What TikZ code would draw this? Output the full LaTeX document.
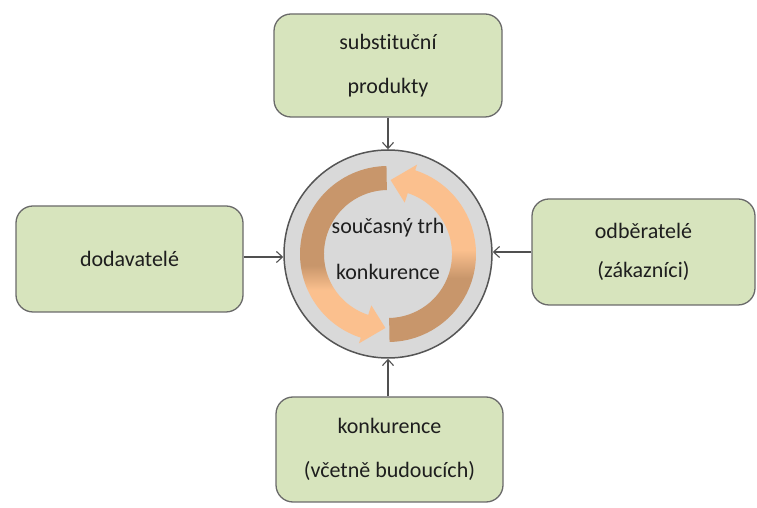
\documentclass[tikz,border=0pt]{standalone}
\usepackage{fontspec}
\setmainfont{Carlito}[Ligatures=NoCommon]
\usetikzlibrary{arrows.meta}

\definecolor{boxfill}{HTML}{D7E4BD}
\definecolor{boxline}{HTML}{6A6A6A}
\definecolor{circfill}{HTML}{D9D9D9}
\definecolor{circline}{HTML}{555555}
\definecolor{linkline}{HTML}{505050}
\definecolor{txt}{HTML}{1E1E1E}
\definecolor{ardark}{HTML}{C8966B}
\definecolor{arlight}{HTML}{FBC08E}

% vertical colour ramps of the two round arrows (path box spans 25bp..75bp)
\pgfdeclareverticalshading{arrowA}{100bp}{color(0bp)=(arlight); color(40bp)=(arlight); color(47bp)=(ardark); color(100bp)=(ardark)}
\pgfdeclareverticalshading{arrowB}{100bp}{color(0bp)=(ardark); color(43bp)=(ardark); color(51bp)=(arlight); color(100bp)=(arlight)}

\tikzset{
  greenbox/.style={draw=boxline, line width=1.3pt, fill=boxfill, rounded corners=17pt,
    align=center, text=txt, inner sep=0pt,
    font=\fontsize{22}{44}\selectfont},
  marketcircle/.style={circle, draw=circline, line width=1.5pt, fill=circfill,
    minimum size=208pt, inner sep=0pt},
  link/.style={draw=linkline, line width=1.1pt, -{Straight Barb[length=6pt,width=11pt]}}
}

\begin{document}
\begin{tikzpicture}[x=1pt,y=1pt]
  \useasboundingbox (0,0) rectangle (757,508);

  % central circle and the cycle of two curved arrows
  \node[marketcircle] (circ) at (388,254) {};
  \begin{scope}[shift={(circ.center)}]
    \shade[shading=arrowA]
      (91:88) arc[start angle=91, end angle=252, radius=88]
      -- (252:94) -- (268:74) -- (252:54) -- (252:64)
      arc[start angle=252, end angle=91, radius=64] -- cycle;
    \shade[shading=arrowB]
      (271:88) arc[start angle=271, end angle=432, radius=88]
      -- (432:94) -- (448:74) -- (432:54) -- (432:64)
      arc[start angle=432, end angle=271, radius=64] -- cycle;
  \end{scope}
  \node[align=center, text=txt, font=\fontsize{22}{46}\selectfont] (circtext) at (388,259)
    {současný trh\\konkurence};

  % the four surrounding forces
  \node[greenbox, minimum width=228pt, minimum height=103pt] (top) at (388,442.5)
    {substituční\\produkty};
  \node[greenbox, minimum width=227pt, minimum height=106pt] (left) at (129.5,249)
    {dodavatelé};
  \node[greenbox, minimum width=223pt, minimum height=106pt] (right) at (643.5,256)
    {odběratelé\\[-5pt](zákazníci)};
  \node[greenbox, minimum width=227pt, minimum height=105pt] (bottom) at (389.5,58.5)
    {konkurence\\(včetně budoucích)};

  % connectors into the circle
  \draw[link] (top.south) -- (circ.north);
  \draw[link] (circ.south |- bottom.north) -- (circ.south);
  \draw[link] ([yshift=2pt]left.east) -- ([yshift=2pt]left.east -| circ.west);
  \draw[link] (right.west) -- (right.west -| circ.east);
\end{tikzpicture}
\end{document}
